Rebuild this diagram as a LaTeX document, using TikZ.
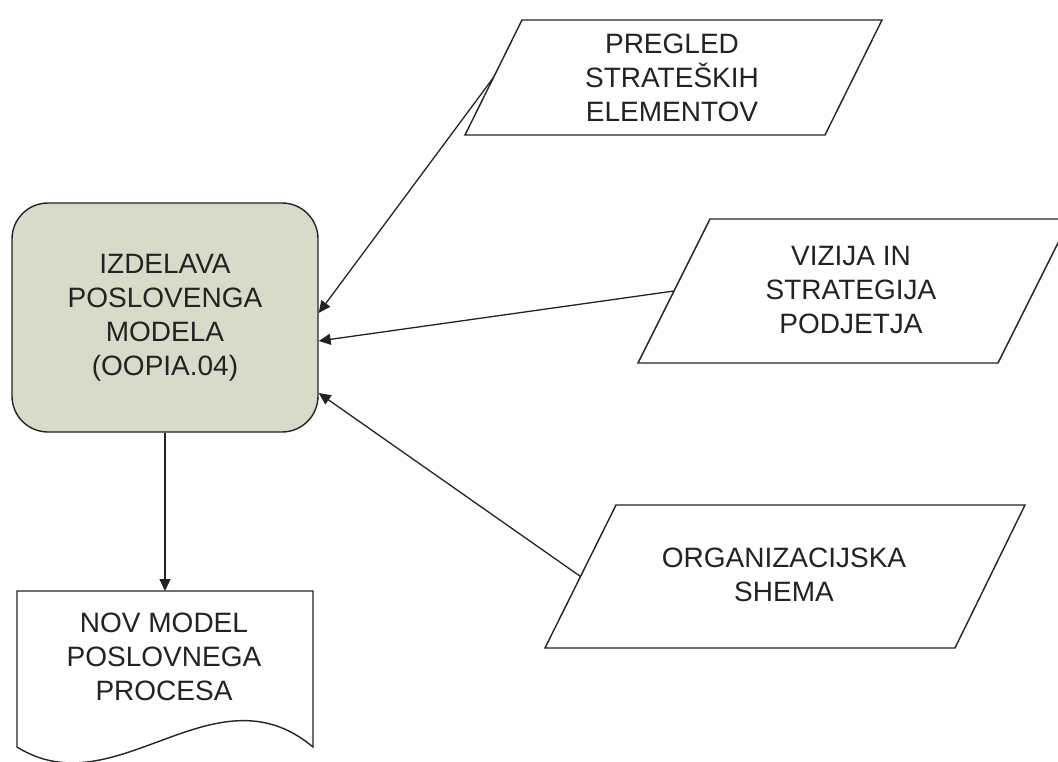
\documentclass[tikz,border=0pt]{standalone}
\usepackage{fontspec}
\setmainfont{Liberation Sans}
\usetikzlibrary{arrows.meta,calc}
\definecolor{boxfill}{RGB}{217,219,202}
\definecolor{ink}{RGB}{35,35,35}
\begin{document}
\begin{tikzpicture}[x=1pt,y=-1pt,
  lbl/.style={align=center,font=\fontsize{28}{34}\selectfont,text=ink},
  outline/.style={draw=ink,line width=1.4pt,line join=miter},
  flow/.style={draw=ink,line width=1.3pt,-{Triangle[length=12pt,width=11pt]}}]
\useasboundingbox (0,0) rectangle (1058,762);

% process box
\node[outline,fill=boxfill,rounded corners=36pt,minimum width=306pt,
      minimum height=229pt,inner sep=0pt,lbl] (proc) at (165,317.5)
      {IZDELAVA\\POSLOVENGA\\MODELA\\(OOPIA.04)};

% input data (parallelograms)
\draw[outline,fill=white] (522,20) -- (882,20) -- (825,135) -- (465,135) -- cycle;
\node[lbl] (pregled) at (672,78) {PREGLED\\STRATEŠKIH\\ELEMENTOV};
\coordinate (pregledin) at (493.5,77.5);

\draw[outline,fill=white] (710,219) -- (1070,219) -- (998,363) -- (638,363) -- cycle;
\node[lbl] (vizija) at (851,290) {VIZIJA IN\\STRATEGIJA\\PODJETJA};
\coordinate (vizijain) at (674,291);

\draw[outline,fill=white] (616,505) -- (1025,505) -- (955,648) -- (545,648) -- cycle;
\node[lbl] (org) at (784,575) {ORGANIZACIJSKA\\SHEMA};
\coordinate (orgin) at (580.5,576.5);

% output document
\draw[outline,fill=white] (17,591) -- (313,591) -- (313,747)
  .. controls (214,664) and (116,809) .. (17,747) -- cycle;
\node[lbl] (doc) at (164,657) {NOV MODEL\\POSLOVNEGA\\PROCESA};
\coordinate (doctop) at (165,591);

% connectors
\draw[flow] (pregledin) -- ($(proc.east)+(0,-4.5)$);
\draw[flow] (vizijain) -- ($(proc.east)+(0,23.5)$);
\draw[flow] (orgin) -- ($(proc.east)+(0,75.5)$);
\draw[flow] (proc.south) -- (doctop);
\end{tikzpicture}
\end{document}
